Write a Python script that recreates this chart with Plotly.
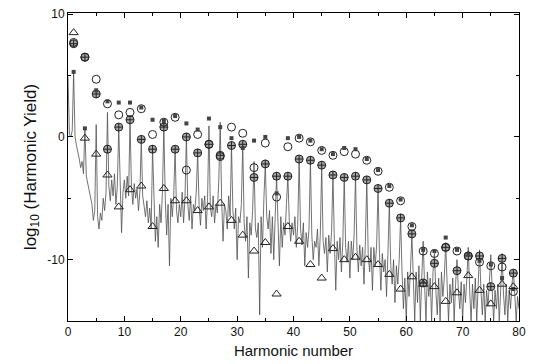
import plotly.graph_objects as go

# Odd harmonic orders where marker data are given
harm = list(range(1, 80, 2))

tri = [8.5, -0.1, -1.4, -3.1, -5.7, -4.3, -4.0, -7.3, -4.2, -5.2,
       -5.2, -6.0, -5.7, -5.4, -6.8, -8.0, -9.3, -8.6, -12.8, -7.3,
       -8.5, -10.4, -11.5, -9.1, -10.0, -9.8, -10.0, -10.4, -11.2, -12.4,
       -11.4, -12.0, -12.2, -13.4, -12.7, -11.3, -12.5, -13.6, -12.0, -12.2]

circ = [7.7, 6.5, 4.7, 2.7, 1.8, 2.0, 2.3, 0.2, 1.2, 1.6,
        -2.7, 0.2, -0.6, -1.6, 0.8, 0.3, -2.5, -0.5, -4.9, -0.8,
        -0.1, -0.4, -1.1, -1.5, -1.2, -1.4, -1.9, -2.8, -4.1, -5.2,
        -7.3, -9.3, -9.5, -9.0, -9.3, -9.7, -10.2, -10.5, -10.6, -12.6]

sq = [5.3, 0.7, 3.8, 2.9, 2.8, 2.8, 2.4, 1.4, 1.3, 1.7,
      1.1, 0.6, 1.5, 0.8, -0.1, -0.9, -0.3, 0.0, -4.6, -0.1,
      0.0, -0.3, -1.0, -1.4, -0.9, -1.0, -1.8, -2.7, -4.0, -5.1,
      -7.2, -9.2, -9.3, -8.2, -9.2, -9.6, -10.1, -10.4, -11.5, -12.4]

cross = [7.6, 6.5, 3.5, -1.0, 0.8, 1.4, -0.2, -1.0, 0.8, -1.0,
         0.0, -1.3, -0.6, -1.5, -0.7, -0.6, -3.3, -2.2, -3.2, -3.2,
         -1.8, -1.9, -2.3, -3.1, -3.3, -3.2, -3.5, -4.2, -5.4, -6.6,
         -7.9, -11.9, -10.3, -9.0, -10.9, -9.7, -9.7, -12.2, -9.9, -11.1]

# Spectrum, sampled every quarter harmonic from 0 to 80
spec_x = [i / 4 for i in range(321)]
spec_y = [
    4.9, 0.2, 0.0, 0.5, 5.3, 0.0, -0.7, -1.2,
    -1.8, -2.5, -2.0, -3.0, 0.8, -3.2, -3.8, -4.3,
    -5.0, -5.5, -6.8, -6.0, 1.0, -6.5, -7.5, -6.2,
    -6.8, -5.0, -6.0, -4.5, 2.0, -4.0, -5.2, -3.5,
    -4.8, -3.0, -5.5, -4.0, 0.8, -3.8, -7.8, -4.5,
    -3.5, -5.0, -3.2, -4.8, 1.4, -4.0, -5.5, -3.8,
    -5.0, -4.2, -6.0, -4.5, -0.2, -4.8, -5.5, -6.5,
    -5.2, -7.0, -5.8, -7.5, -1.0, -6.0, -8.5, -6.5,
    -9.0, -5.5, -7.0, -4.5, 0.8, -5.0, -8.0, -5.5,
    -10.5, -5.0, -6.5, -4.8, -1.0, -6.0, -7.0, -5.5,
    -6.5, -4.5, -7.0, -5.0, 0.0, -5.5, -6.8, -4.8,
    -7.5, -5.5, -6.0, -4.5, -1.3, -5.5, -7.2, -5.0,
    -6.0, -4.8, -7.5, -5.2, 0.9, -5.8, -6.5, -4.8,
    -7.0, -5.5, -6.2, -3.5, 1.2, -5.0, -8.5, -5.5,
    -6.0, -7.5, -4.8, -6.5, -0.7, -6.0, -7.5, -5.8,
    -10.0, -6.5, -7.0, -5.5, -0.6, -7.0, -8.5, -6.5,
    -11.5, -7.0, -8.0, -6.0, -2.0, -7.5, -8.2, -7.0,
    -14.5, -6.5, -9.0, -5.0, -2.2, -6.5, -7.5, -6.0,
    -9.5, -6.5, -10.0, -6.5, -3.2, -7.0, -10.5, -6.5,
    -9.0, -7.0, -8.0, -5.5, -3.2, -6.8, -8.5, -7.0,
    -8.0, -6.5, -9.0, -7.2, -1.8, -7.5, -8.8, -7.0,
    -10.5, -7.8, -9.0, -7.5, -1.9, -8.0, -10.0, -8.5,
    -9.0, -7.5, -10.5, -8.0, -2.3, -8.5, -9.5, -8.2,
    -11.0, -8.0, -9.5, -7.8, -3.1, -8.5, -12.5, -8.5,
    -10.0, -8.2, -11.0, -8.5, -3.3, -9.0, -10.2, -8.5,
    -11.5, -8.5, -10.0, -8.0, -3.2, -9.0, -11.0, -8.8,
    -10.5, -9.0, -12.0, -8.5, -3.5, -9.5, -11.0, -9.0,
    -12.5, -9.0, -10.5, -8.8, -4.2, -9.5, -12.5, -9.5,
    -11.0, -10.0, -13.0, -9.5, -5.4, -10.5, -12.0, -10.0,
    -13.5, -10.5, -12.0, -10.0, -6.6, -11.0, -14.0, -11.5,
    -15.0, -11.0, -13.0, -10.8, -7.9, -11.5, -15.0, -11.0,
    -13.5, -10.5, -15.0, -11.5, -8.5, -12.0, -15.0, -11.0,
    -13.0, -11.5, -15.0, -11.0, -9.5, -12.5, -14.5, -11.5,
    -15.0, -11.0, -13.0, -11.5, -8.6, -12.0, -15.0, -12.0,
    -13.5, -11.5, -15.0, -12.0, -10.0, -12.5, -14.0, -11.8,
    -15.0, -12.0, -13.5, -11.5, -9.0, -12.5, -15.0, -12.0,
    -14.0, -11.5, -15.0, -12.2, -9.2, -12.5, -14.5, -12.0,
    -15.0, -12.5, -13.8, -11.8, -9.6, -12.5, -15.0, -12.5,
    -14.0, -12.0, -15.0, -12.5, -9.5, -12.8, -14.5, -12.0,
    -15.0, -12.5, -14.0, -12.0, -10.9, -12.8, -15.0, -13.0,
    -14.0,
]

x_ticks = [0, 10, 20, 30, 40, 50, 60, 70, 80]
y_ticks = [-10, 0, 10]

fig = go.Figure()
fig.add_trace(go.Scatter(x=spec_x, y=spec_y, mode="lines",
                         line=dict(color="#505050", width=0.8),
                         showlegend=False, hoverinfo="skip"))
fig.add_trace(go.Scatter(x=harm, y=cross, mode="markers", showlegend=False,
                         marker=dict(symbol="circle-cross", size=8, color="#a8a8a8",
                                     line=dict(color="#222", width=1))))
fig.add_trace(go.Scatter(x=harm, y=circ, mode="markers", showlegend=False,
                         marker=dict(symbol="circle-open", size=8, color="#222",
                                     line=dict(width=1))))
fig.add_trace(go.Scatter(x=harm, y=sq, mode="markers", showlegend=False,
                         marker=dict(symbol="square", size=4, color="#444")))
fig.add_trace(go.Scatter(x=harm, y=tri, mode="markers", showlegend=False,
                         marker=dict(symbol="triangle-up-open", size=8, color="#222",
                                     line=dict(width=1))))

axis_common = dict(showgrid=False, zeroline=False, showline=True, linecolor="black",
                   linewidth=1, mirror="ticks", ticks="inside", ticklen=5,
                   tickcolor="black", tickfont=dict(size=12, color="#111"))

fig.update_xaxes(range=[0, 80], tickvals=x_ticks, ticktext=[str(v) for v in x_ticks],
                 minor=dict(dtick=5, tick0=0, ticks="inside", ticklen=3, tickcolor="black"),
                 title=dict(text="Harmonic number", font=dict(size=15, color="#111"),
                            standoff=7),
                 **axis_common)
fig.update_yaxes(range=[-15, 10.1], tickvals=y_ticks, ticktext=[str(v) for v in y_ticks],
                 minor=dict(dtick=5, tick0=0, ticks="inside", ticklen=3, tickcolor="black"),
                 title=dict(text="log<sub>10</sub> (Harmonic Yield)",
                            font=dict(size=17, color="#111"), standoff=6),
                 **axis_common)

fig.update_layout(width=533, height=364, margin=dict(l=68, r=7, t=13, b=43),
                  paper_bgcolor="white", plot_bgcolor="white",
                  font=dict(family="Liberation Sans, Arial, sans-serif"))

fig.write_html("out.html")
